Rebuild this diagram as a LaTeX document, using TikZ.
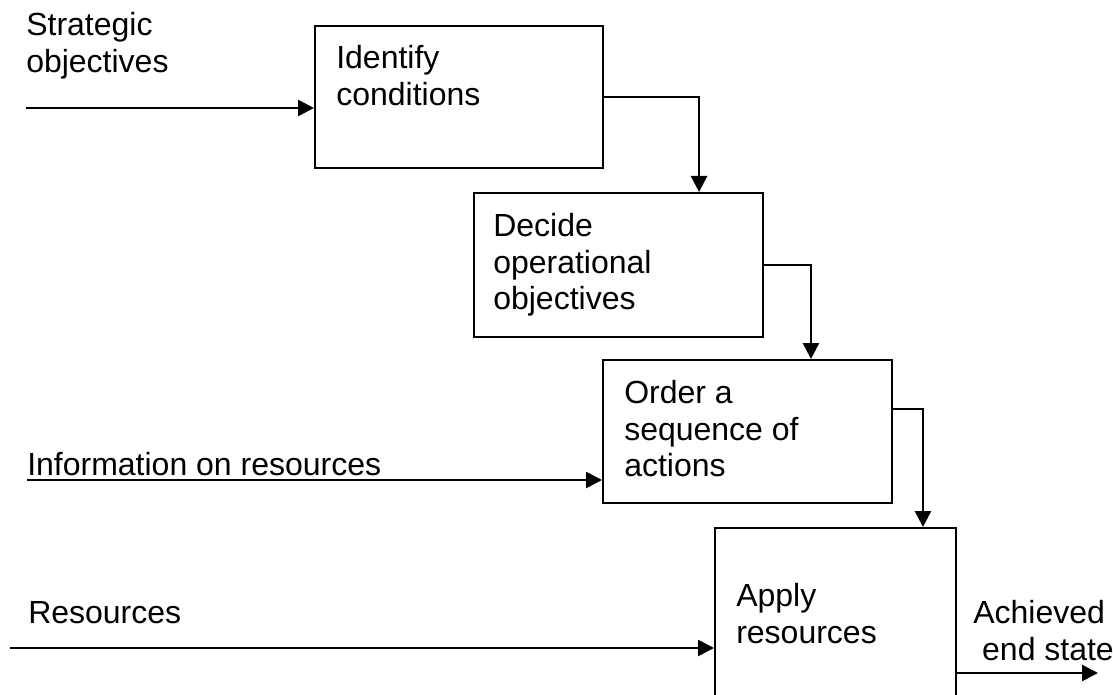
\documentclass[tikz,border=0pt]{standalone}
\usepackage{fontspec}
\setmainfont{Liberation Sans}
\usetikzlibrary{arrows.meta}

\begin{document}
\begin{tikzpicture}[x=0.75pt,y=-0.75pt,
    stage/.style={draw,line width=1.5pt,inner sep=0pt},
    flow/.style={line width=2pt,-{Triangle[length=12pt,width=12pt]}},
    txt/.style={inner sep=0pt,anchor=north west,align=left,
        font=\fontsize{24}{27.5}\selectfont}]
\useasboundingbox (0,0) rectangle (1113,695);
\clip (0,0) rectangle (1113,695);
% the four stages
\node[stage,minimum width=216pt,minimum height=106.5pt] (ident) at (459,97) {};
\node[stage,minimum width=216.75pt,minimum height=108pt] (decide) at (618.5,265) {};
\node[stage,minimum width=216.75pt,minimum height=107.25pt] (order) at (747.5,431.5) {};
\node[stage,minimum width=180.75pt,minimum height=181.5pt] (apply) at (835.5,649) {};
\node[txt] (identtxt) at (336,45) {Identify\\conditions};
\node[txt] (decidetxt) at (493,213) {Decide\\operational\\objectives};
\node[txt] (ordertxt) at (624,380) {Order a\\sequence of\\actions};
\node[txt] (applytxt) at (736,583) {Apply\\resources};
% inputs and output
\node[txt] (strat) at (26,12) {Strategic\\objectives};
\node[txt,anchor=base west] (info) at (27,475) {Information on resources};
\node[txt,anchor=base west] (res) at (28,623) {Resources};
\node[txt] (endst) at (973,600) {Achieved\\\ end state};
\coordinate (stratin) at (26,108);
\coordinate (infoin) at (27,480);
\coordinate (resin) at (10,648);
\coordinate (endout) at (1098,673);
\draw[flow] (stratin) -- (stratin -| ident.west);
\draw[flow] (infoin) -- (infoin -| order.west);
\draw[flow] (resin) -- (resin -| apply.west);
\draw[flow] (endout -| apply.east) -- (endout);
% cascade between stages
\draw[flow] (ident.east) -| ([xshift=60.4pt]decide.north);
\draw[flow] (decide.east) -| ([xshift=47.6pt]order.north);
\draw[flow] ([yshift=16.9pt]order.east) -| ([xshift=65.6pt]apply.north);
\end{tikzpicture}
\end{document}
